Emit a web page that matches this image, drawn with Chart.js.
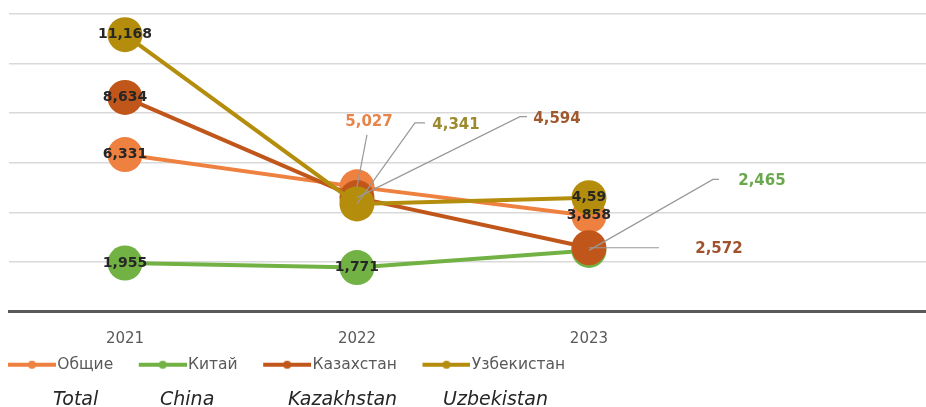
<!DOCTYPE html>
<html>
<head>
<meta charset="utf-8">
<script src="https://cdn.jsdelivr.net/npm/chart.js@4.4.1/dist/chart.umd.min.js"></script>
<style>
  html, body { margin: 0; padding: 0; background: #fff; }
  #wrap { position: relative; width: 926px; height: 407px; overflow: hidden; }
  .en { position: absolute; top: 386px; font: italic 19px "DejaVu Sans"; line-height: 24px; color: #262626; white-space: nowrap; }
</style>
</head>
<body>
<div id="wrap">
  <canvas id="chart" width="926" height="407"></canvas>
  <span class="en" style="left:53px">Total</span>
  <span class="en" style="left:160px">China</span>
  <span class="en" style="left:288px">Kazakhstan</span>
  <span class="en" style="left:443px">Uzbekistan</span>
</div>
<script>
// data
const years = [2021, 2022, 2023];
const seriesNames = ['Общие', 'Китай', 'Казахстан', 'Узбекистан'];
const totalValues = [6331, 5027, 3858];
const chinaValues = [1955, 1771, 2465];
const kazakhstanValues = [8634, 4594, 2572];
const uzbekistanValues = [11168, 4341, 4590];
// label text as printed in the source (Uzbekistan 2023 is shown cut short)
const labelOverrides = { '3-2': '4,59' };

const colors = ['#EE8040', '#72B244', '#C0561A', '#B58D0C'];
const allValues = [totalValues, chinaValues, kazakhstanValues, uzbekistanValues];

function labelText(di, i) {
  const key = di + '-' + i;
  if (labelOverrides[key]) return labelOverrides[key];
  return allValues[di][i].toLocaleString('en-US');
}

// legend swatch: line with a small dot, transparent margin on the left for spacing
function swatch(color) {
  const c = document.createElement('canvas');
  c.width = 70; c.height = 10;
  const g = c.getContext('2d');
  g.strokeStyle = color; g.lineWidth = 4;
  g.beginPath(); g.moveTo(22, 5); g.lineTo(70, 5); g.stroke();
  g.fillStyle = color;
  g.beginPath(); g.arc(46, 5, 4, 0, Math.PI * 2); g.fill();
  return c;
}

// labels placed off the point, with leader lines (offsets from the point)
const callouts = [
  { series: 0, index: 1, dx: 12, dy: -65, color: '#E8844A', leader: [[10, -52]] },
  { series: 3, index: 1, dx: 99, dy: -79, color: '#9C8A2E', leader: [[58, -81], [68, -81]] },
  { series: 2, index: 1, dx: 200, dy: -78, color: '#A0582F', leader: [[163, -81], [170, -81]] },
  { series: 1, index: 2, dx: 173, dy: -69, color: '#6AA84F', leader: [[124, -71], [130, -71]] },
  { series: 2, index: 2, dx: 130, dy: 1, color: '#A0522D', leader: [[70, 0]] }
];

const valueLabels = {
  id: 'valueLabels',
  afterDatasetsDraw(chart) {
    const ctx = chart.ctx;
    ctx.save();
    ctx.textAlign = 'center';
    ctx.textBaseline = 'middle';
    // leader lines first
    callouts.forEach(c => {
      const pt = chart.getDatasetMeta(c.series).data[c.index];
      ctx.strokeStyle = '#999999';
      ctx.lineWidth = 1.2;
      ctx.beginPath();
      ctx.moveTo(pt.x, pt.y);
      c.leader.forEach(([dx, dy]) => ctx.lineTo(pt.x + dx, pt.y + dy));
      ctx.stroke();
    });
    chart.data.datasets.forEach((ds, di) => {
      chart.getDatasetMeta(di).data.forEach((pt, i) => {
        const c = callouts.find(o => o.series === di && o.index === i);
        const text = labelText(di, i);
        if (c) {
          ctx.font = 'bold 15px "DejaVu Sans"';
          ctx.fillStyle = c.color;
          ctx.fillText(text, pt.x + c.dx, pt.y + c.dy);
        } else {
          ctx.font = 'bold 14px "DejaVu Sans"';
          ctx.fillStyle = '#262626';
          ctx.fillText(text, pt.x, pt.y);
        }
      });
    });
    ctx.restore();
  }
};

// pull the legend to the left edge like the source
const shiftLegend = {
  id: 'shiftLegend',
  afterLayout(chart) {
    chart.legend.left -= 17.5;
    chart.legend.right -= 17.5;
  }
};

function makeSet(i, values, order) {
  return {
    label: seriesNames[i],
    data: values.map((v, k) => ({ x: years[k], y: v })),
    borderColor: colors[i],
    backgroundColor: colors[i],
    borderWidth: 4,
    pointRadius: 17.5,
    pointBorderWidth: 0,
    pointBackgroundColor: colors[i],
    tension: 0,
    clip: false,
    order: order
  };
}

new Chart(document.getElementById('chart').getContext('2d'), {
  type: 'line',
  data: {
    datasets: [
      makeSet(0, totalValues, 3),
      makeSet(1, chinaValues, 2),
      makeSet(2, kazakhstanValues, 1),
      makeSet(3, uzbekistanValues, 0)
    ]
  },
  options: {
    responsive: false,
    animation: false,
    events: [],
    layout: { autoPadding: false, padding: { top: 14, left: 0, right: 0, bottom: 24.5 } },
    scales: {
      x: {
        type: 'linear',
        min: 2020.5,
        max: 2024.453,
        afterBuildTicks: axis => { axis.ticks = years.map(v => ({ value: v })); },
        afterFit: axis => { axis.height = 35.5; },
        grid: { display: false, drawTicks: false },
        border: { display: true, color: '#595959', width: 3 },
        ticks: {
          callback: v => String(v),
          color: '#595959',
          font: { family: 'DejaVu Sans', size: 15 },
          padding: 19,
          maxRotation: 0
        }
      },
      y: {
        min: 0,
        max: 12000,
        ticks: { display: false, stepSize: 2000 },
        afterFit: axis => { axis.width = 9; },
        grid: { color: '#d9d9d9', lineWidth: 1.5, drawTicks: false },
        border: { display: false }
      }
    },
    plugins: {
      tooltip: { enabled: false },
      legend: {
        position: 'bottom',
        align: 'start',
        labels: {
          usePointStyle: true,
          pointStyleWidth: 57,
          boxHeight: 10,
          padding: 10,
          color: '#595959',
          font: { family: 'DejaVu Sans', size: 15.5 },
          generateLabels: chart => chart.data.datasets.map((ds, i) => ({
            text: ds.label,
            fillStyle: colors[i],
            strokeStyle: colors[i],
            lineWidth: 0,
            pointStyle: swatch(colors[i]),
            fontColor: '#595959',
            datasetIndex: i,
            hidden: false
          }))
        }
      }
    }
  },
  plugins: [valueLabels, shiftLegend]
});
</script>
</body>
</html>
